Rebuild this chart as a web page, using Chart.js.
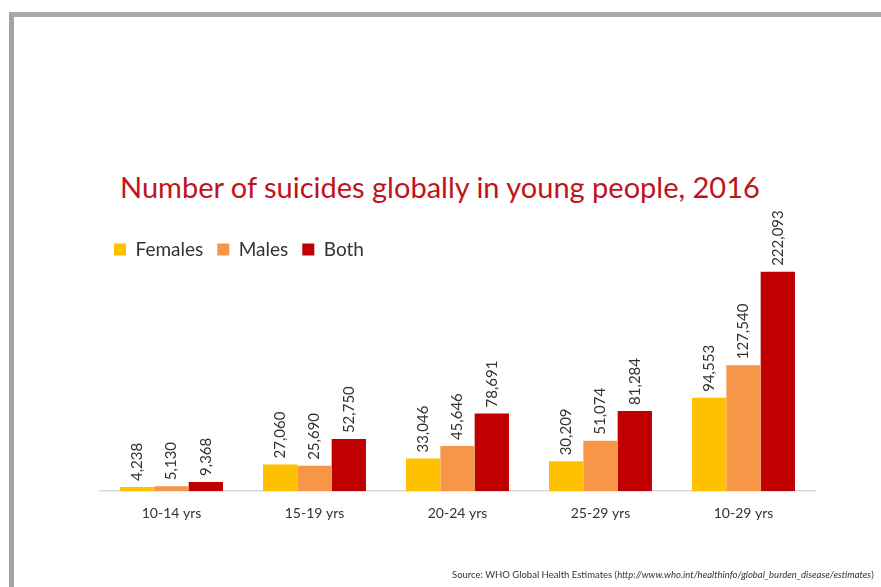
<!DOCTYPE html>
<html lang="en">
<head>
    <meta charset="UTF-8">
    <title>Suicides in young people</title>
    <script src="https://cdn.jsdelivr.net/npm/chart.js"></script>
    <style>
        body {
            margin: 0;
            background: #ffffff;
            font-family: Lato, "Open Sans", sans-serif;
        }
        #wrap {
            position: relative;
            width: 881px;
            height: 587px;
            overflow: hidden;
        }
        #frame {
            position: absolute;
            left: 9px;
            top: 12px;
            width: 900px;
            height: 600px;
            border-top: 5px solid #a7abaf;
            border-left: 5px solid #a0a4a8;
        }
        #title {
            position: absolute;
            left: 120px;
            top: 169px;
            font-size: 29px;
            color: #c0141b;
            white-space: nowrap;
        }
        #source {
            position: absolute;
            left: 452px;
            top: 569px;
            font-size: 9.5px;
            color: #333;
            white-space: nowrap;
        }
        canvas {
            position: absolute;
            left: 0;
            top: 0;
        }
    </style>
</head>
<body>
<div id="wrap">
    <div id="frame"></div>
    <div id="title">Number of suicides globally in young people, 2016</div>
    <canvas id="chart" width="881" height="587"></canvas>
    <div id="source">Source: WHO Global Health Estimates (<i>http://www.who.int/healthinfo/global_burden_disease/estimates</i>)</div>
</div>
<script>
    const ageGroups = ["10-14 yrs", "15-19 yrs", "20-24 yrs", "25-29 yrs", "10-29 yrs"];
    const females = [4238, 27060, 33046, 30209, 94553];
    const males = [5130, 25690, 45646, 51074, 127540];
    const both = [9368, 52750, 78691, 81284, 222093];

    // rotated value labels above each bar
    const valueLabels = {
        id: "valueLabels",
        afterDatasetsDraw(chart) {
            const ctx = chart.ctx;
            ctx.save();
            ctx.font = "15px Lato, sans-serif";
            ctx.fillStyle = "#333333";
            ctx.textAlign = "left";
            ctx.textBaseline = "middle";
            chart.data.datasets.forEach((ds, i) => {
                chart.getDatasetMeta(i).data.forEach((bar, j) => {
                    ctx.save();
                    ctx.translate(bar.x, bar.y - 6);
                    ctx.rotate(-Math.PI / 2);
                    ctx.fillText(ds.data[j].toLocaleString("en-US"), 0, 0);
                    ctx.restore();
                });
            });
            ctx.restore();
        }
    };

    new Chart(document.getElementById("chart"), {
        type: "bar",
        data: {
            labels: ageGroups,
            datasets: [
                { label: "Females", data: females, backgroundColor: "#ffc000" },
                { label: "Males", data: males, backgroundColor: "#f79646" },
                { label: "Both", data: both, backgroundColor: "#c00000" }
            ]
        },
        options: {
            responsive: false,
            animation: false,
            datasets: {
                bar: { categoryPercentage: 0.72, barPercentage: 1.0 }
            },
            layout: {
                padding: { left: 100, right: 66, top: 226, bottom: 51 }
            },
            plugins: {
                legend: {
                    align: "start",
                    labels: {
                        boxWidth: 12,
                        boxHeight: 12,
                        padding: 14,
                        color: "#333333",
                        font: { family: "Lato", size: 19 }
                    }
                },
                tooltip: { enabled: false }
            },
            scales: {
                x: {
                    grid: { display: false, drawTicks: false },
                    border: { display: true, color: "#d9d9d9", width: 1.5 },
                    ticks: {
                        padding: 14,
                        color: "#333333",
                        font: { family: "Lato", size: 14 }
                    }
                },
                y: {
                    display: false,
                    min: 0,
                    max: 225000
                }
            }
        },
        plugins: [valueLabels]
    });
</script>
</body>
</html>
